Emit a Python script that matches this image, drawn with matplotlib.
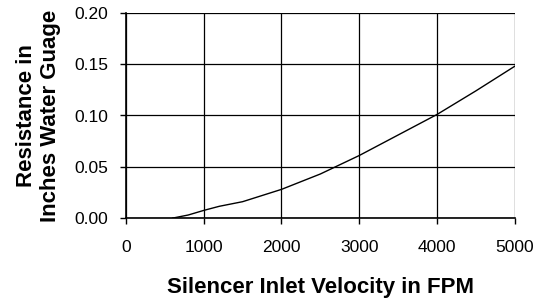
import matplotlib
matplotlib.use("Agg")
import matplotlib.pyplot as plt

velocity = [600, 800, 1000, 1200, 1500, 2000, 2500, 3000, 3500, 4000, 4500, 5000]
resistance = [0.0, 0.003, 0.0075, 0.0115, 0.016, 0.028, 0.043, 0.061, 0.081, 0.101, 0.124, 0.148]
xticks = [0, 1000, 2000, 3000, 4000, 5000]
yticks = [0.00, 0.05, 0.10, 0.15, 0.20]

plt.rcParams['font.family'] = ['Liberation Sans', 'DejaVu Sans']
fig = plt.figure(figsize=(5.43, 3.00), dpi=100)
ax = fig.add_axes([0.232, 0.273, 0.716, 0.684])
ax.plot(velocity, resistance, color='black', lw=1.0)
ax.set_xlim(0, 5000)
ax.set_ylim(0, 0.20)
ax.set_xticks(xticks)
ax.set_yticks(yticks)
ax.set_xticklabels([f"{v}" for v in xticks])
ax.set_yticklabels([f"{v:.2f}" for v in yticks])
ax.grid(True, color='black', lw=0.9)
for s in ['top', 'right']:
    ax.spines[s].set_visible(False)
ax.spines['left'].set_linewidth(1.2)
ax.spines['bottom'].set_linewidth(1.2)
ax.tick_params(direction='out', length=4.5, width=1, labelsize=12.5)
ax.tick_params(axis='x', pad=11)
ax.tick_params(axis='y', pad=8)
ax.set_xlabel("Silencer Inlet Velocity in FPM", fontsize=16, fontweight='bold', labelpad=16)
ax.set_ylabel("Resistance in\nInches Water Guage", fontsize=16, fontweight='bold', labelpad=10,
              linespacing=1.15)
fig.savefig("out.png", dpi=100)
